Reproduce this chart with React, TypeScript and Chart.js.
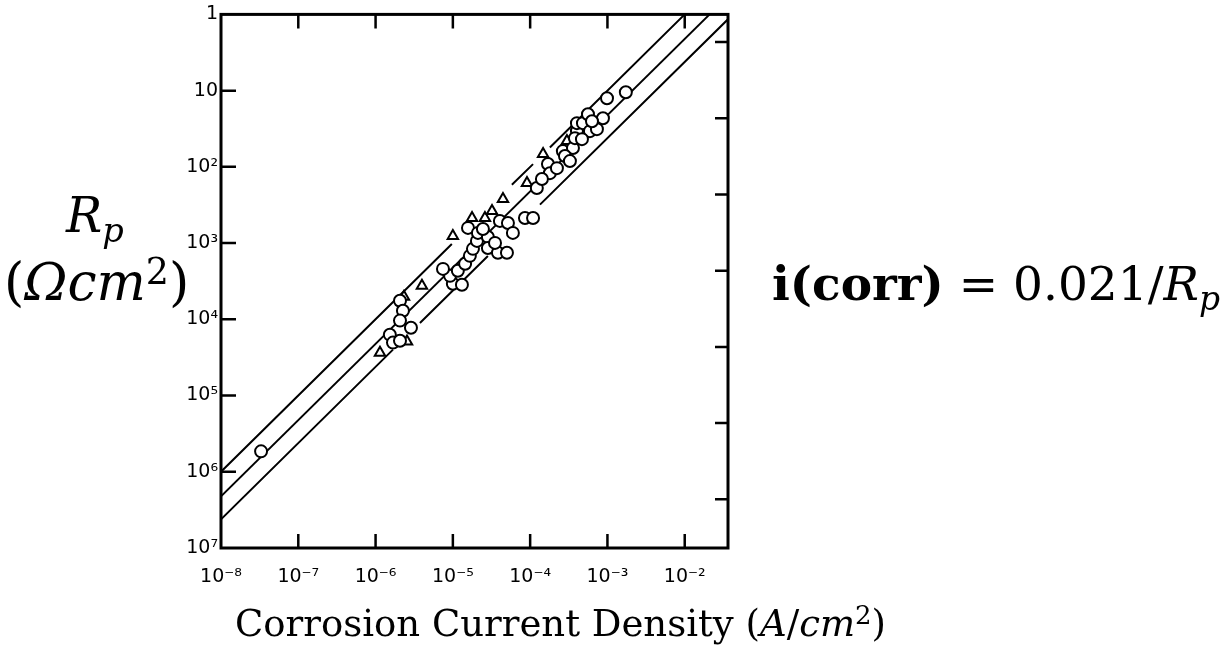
import React, { useEffect, useRef } from "react";
import { Chart, registerables } from "chart.js";

Chart.register(...registerables);

// x: corrosion current density (A/cm^2), y: Rp (ohm cm^2)
const circleI = [
  3.3e-8,
  2.07e-6, 2.26e-6, 2.07e-6, 2.87e-6, 1.53e-6, 1.68e-6, 2.07e-6,
  1.0e-5, 1.31e-5, 9.2e-6, 1.16e-5, 1.44e-5, 1.66e-5, 1.82e-5, 2.05e-5, 1.57e-5, 2.11e-5,
  2.84e-5, 2.84e-5, 3.83e-5, 5.01e-5, 4.06e-5, 5.16e-5, 5.98e-5, 8.57e-5, 1.09e-4, 1.22e-4,
  1.70e-4, 1.80e-4, 2.22e-4, 2.65e-4, 3.58e-4, 4.03e-4, 4.03e-4, 4.82e-4, 5.6e-4, 5.94e-4,
  7.31e-4, 8.75e-4, 9.87e-4, 1.73e-3, 3.8e-4, 4.68e-4, 2.82e-4, 1.42e-4,
  2.45e-5, 3.51e-5, 7.45e-6, 3.27e-4, 6.31e-4,
];
const circleRp = [
  5.4e5,
  5.71e3, 7.71e3, 1.04e4, 1.29e4, 1.59e4, 2.02e4, 1.91e4,
  3.42e3, 3.52e3, 2.69e3, 2.31e3, 1.87e3, 1.47e3, 1.19e3, 936, 632, 735,
  830, 1160, 1340, 1340, 512, 544, 735, 468, 468, 189,
  91.9, 121, 104, 62.1, 56.7, 34.0, 26.7, 26.7, 20.4, 34.0,
  32.0, 23.0, 12.6, 10.5, 42.0, 43.3, 72.2, 144,
  652, 994, 2.18e3, 84, 25.2,
];
const triangleI = [
  1.14e-6, 2.55e-6, 2.33e-6, 3.98e-6,
  1.0e-5, 1.77e-5, 2.6e-5, 3.21e-5, 4.45e-5, 9.1e-5,
  1.47e-4, 2.99e-4,
];
const triangleRp = [
  2.74e4, 1.96e4, 5.06e3, 3.63e3,
  805, 468, 468, 379, 264, 163,
  68.0, 45.9,
];

// bounding lines Rp = B / i, drawn as broken segments (null = gap)
const upperLineI = [1e-8, 9.7e-6, 3e-5, 5.8e-5, 1.09e-4, 1.4e-4, 1.8e-4, 1e-2];
const upperLineRp = [1e6, 1030, null, 172, 92, null, 55.6, 1];
const middleLineI = [1e-8, 2.1e-2];
const middleLineRp = [2.1e6, 1];
const lowerLineI = [1e-8, 1.68e-6, 2.5e-6, 3.75e-6, 2.84e-5, 6e-5, 1.34e-4, 4.2e-2];
const lowerLineRp = [4.2e6, 2.5e4, null, 1.12e4, 1480, null, 313, 1];

const xTicks = [1e-8, 1e-7, 1e-6, 1e-5, 1e-4, 1e-3, 1e-2];
const xTickLabels = ["10⁻⁸", "10⁻⁷", "10⁻⁶", "10⁻⁵", "10⁻⁴", "10⁻³", "10⁻²"];
const yTicks = [1, 10, 1e2, 1e3, 1e4, 1e5, 1e6, 1e7];
const yTickLabels = ["1", "10", "10²", "10³", "10⁴", "10⁵", "10⁶", "10⁷"];
const rightTicks = [2.3, 23, 230, 2.3e3, 2.3e4, 2.3e5, 2.3e6];

const X_MIN = 1e-8;
const X_MAX = 0.0363;
const Y_MIN = 1;
const Y_MAX = 1e7;

const toPts = (xs: number[], ys: (number | null)[]) => xs.map((x, i) => ({ x, y: ys[i] }));

const frameTicks = {
  id: "frameTicks",
  afterDatasetsDraw(chart: any) {
    const { ctx, chartArea, scales } = chart;
    const { left, right, top, bottom } = chartArea;
    const xs = scales.x;
    const ys = scales.y;
    ctx.save();
    ctx.strokeStyle = "#000";
    ctx.lineCap = "butt";
    ctx.lineWidth = 2.5;
    ctx.beginPath();
    xTicks.forEach((v) => {
      const px = xs.getPixelForValue(v);
      if (px > left + 3 && px < right - 3) {
        ctx.moveTo(px, bottom);
        ctx.lineTo(px, bottom - 14);
        ctx.moveTo(px, top);
        ctx.lineTo(px, top + 14);
      }
    });
    yTicks.forEach((v) => {
      const py = ys.getPixelForValue(v);
      if (py > top + 3 && py < bottom - 3) {
        ctx.moveTo(left, py);
        ctx.lineTo(left + 15, py);
      }
    });
    rightTicks.forEach((v) => {
      const py = ys.getPixelForValue(v);
      ctx.moveTo(right, py);
      ctx.lineTo(right - 13, py);
    });
    ctx.stroke();
    ctx.lineWidth = 3;
    ctx.strokeRect(left, top, right - left, bottom - top);
    ctx.restore();
  },
};

export default function App() {
  const canvasRef = useRef<HTMLCanvasElement | null>(null);

  useEffect(() => {
    const canvas = canvasRef.current;
    if (!canvas) return;
    const lineDs = (label: string, xs: number[], ys: (number | null)[]) => ({
      label,
      data: toPts(xs, ys),
      showLine: true,
      spanGaps: false,
      borderColor: "#000",
      borderWidth: 2,
      pointRadius: 0,
      fill: false,
      order: 2,
    });
    const chart = new Chart(canvas, {
      type: "scatter",
      data: {
        datasets: [
          {
            label: "circles",
            data: toPts(circleI, circleRp),
            pointStyle: "circle",
            pointRadius: 6,
            pointBorderWidth: 2,
            pointBorderColor: "#000",
            pointBackgroundColor: "#fff",
            order: 0,
          } as any,
          {
            label: "triangles",
            data: toPts(triangleI, triangleRp),
            pointStyle: "triangle",
            pointRadius: 6,
            pointBorderWidth: 2,
            pointBorderColor: "#000",
            pointBackgroundColor: "#fff",
            order: 1,
          } as any,
          lineDs("upper", upperLineI, upperLineRp),
          lineDs("middle", middleLineI, middleLineRp),
          lineDs("lower", lowerLineI, lowerLineRp),
        ],
      },
      options: {
        animation: false,
        responsive: false,
        maintainAspectRatio: false,
        layout: { padding: { left: 171, right: 499, top: 13, bottom: 78 } },
        plugins: {
          legend: { display: false },
          tooltip: { enabled: false },
        },
        scales: {
          x: {
            type: "logarithmic",
            min: X_MIN,
            max: X_MAX,
            grid: { display: false, drawTicks: false },
            border: { display: false },
            afterBuildTicks: (scale: any) => {
              scale.ticks = xTicks.map((v) => ({ value: v }));
            },
            afterFit: (scale: any) => {
              scale.height = 45;
            },
            ticks: {
              autoSkip: false,
              maxRotation: 0,
              minRotation: 0,
              padding: 18,
              color: "#000",
              font: { family: "DejaVu Sans", size: 19 },
              callback: (_v: any, i: number) => xTickLabels[i],
            },
          },
          y: {
            type: "logarithmic",
            reverse: true,
            min: Y_MIN,
            max: Y_MAX,
            grid: { display: false, drawTicks: false },
            border: { display: false },
            afterBuildTicks: (scale: any) => {
              scale.ticks = yTicks.map((v) => ({ value: v }));
            },
            afterFit: (scale: any) => {
              scale.width = 50;
            },
            ticks: {
              autoSkip: false,
              padding: 3,
              color: "#000",
              font: { family: "DejaVu Sans", size: 19 },
              callback: (_v: any, i: number) => yTickLabels[i],
            },
          },
        },
      } as any,
      plugins: [frameTicks],
    });
    return () => chart.destroy();
  }, []);

  const serif = "'DejaVu Serif', 'Liberation Serif', serif";
  const base: React.CSSProperties = {
    position: "absolute",
    fontFamily: serif,
    whiteSpace: "nowrap",
    color: "#000",
  };
  const sub: React.CSSProperties = { fontSize: "0.7em", position: "relative", top: "0.3em" };
  const sup: React.CSSProperties = { fontSize: "0.7em", position: "relative", top: "-0.45em" };
  return (
    <div
      style={{
        position: "fixed",
        left: 0,
        top: 0,
        width: 1227,
        height: 671,
        background: "#fff",
        overflow: "hidden",
      }}
    >
      <canvas ref={canvasRef} width={1227} height={671} style={{ width: 1227, height: 671, display: "block" }} />
      <div style={{ ...base, left: 66, top: 191, fontSize: 48, lineHeight: "48px" }}>
        <i>R</i>
        <span style={sub}>
          <i>p</i>
        </span>
      </div>
      <div style={{ ...base, left: 4, top: 256, fontSize: 52, lineHeight: "52px" }}>
        (<i>Ωcm</i>
        <span style={sup}>2</span>)
      </div>
      <div style={{ ...base, left: 772, top: 260, fontSize: 47, lineHeight: "47px" }}>
        <b>i(corr)</b> = 0.021/<i>R</i>
        <span style={sub}>
          <i>p</i>
        </span>
      </div>
      <div style={{ ...base, left: 235, top: 605, fontSize: 37, lineHeight: "37px" }}>
        Corrosion Current Density (<i>A</i>/<i>cm</i>
        <span style={sup}>2</span>)
      </div>
    </div>
  );
}
